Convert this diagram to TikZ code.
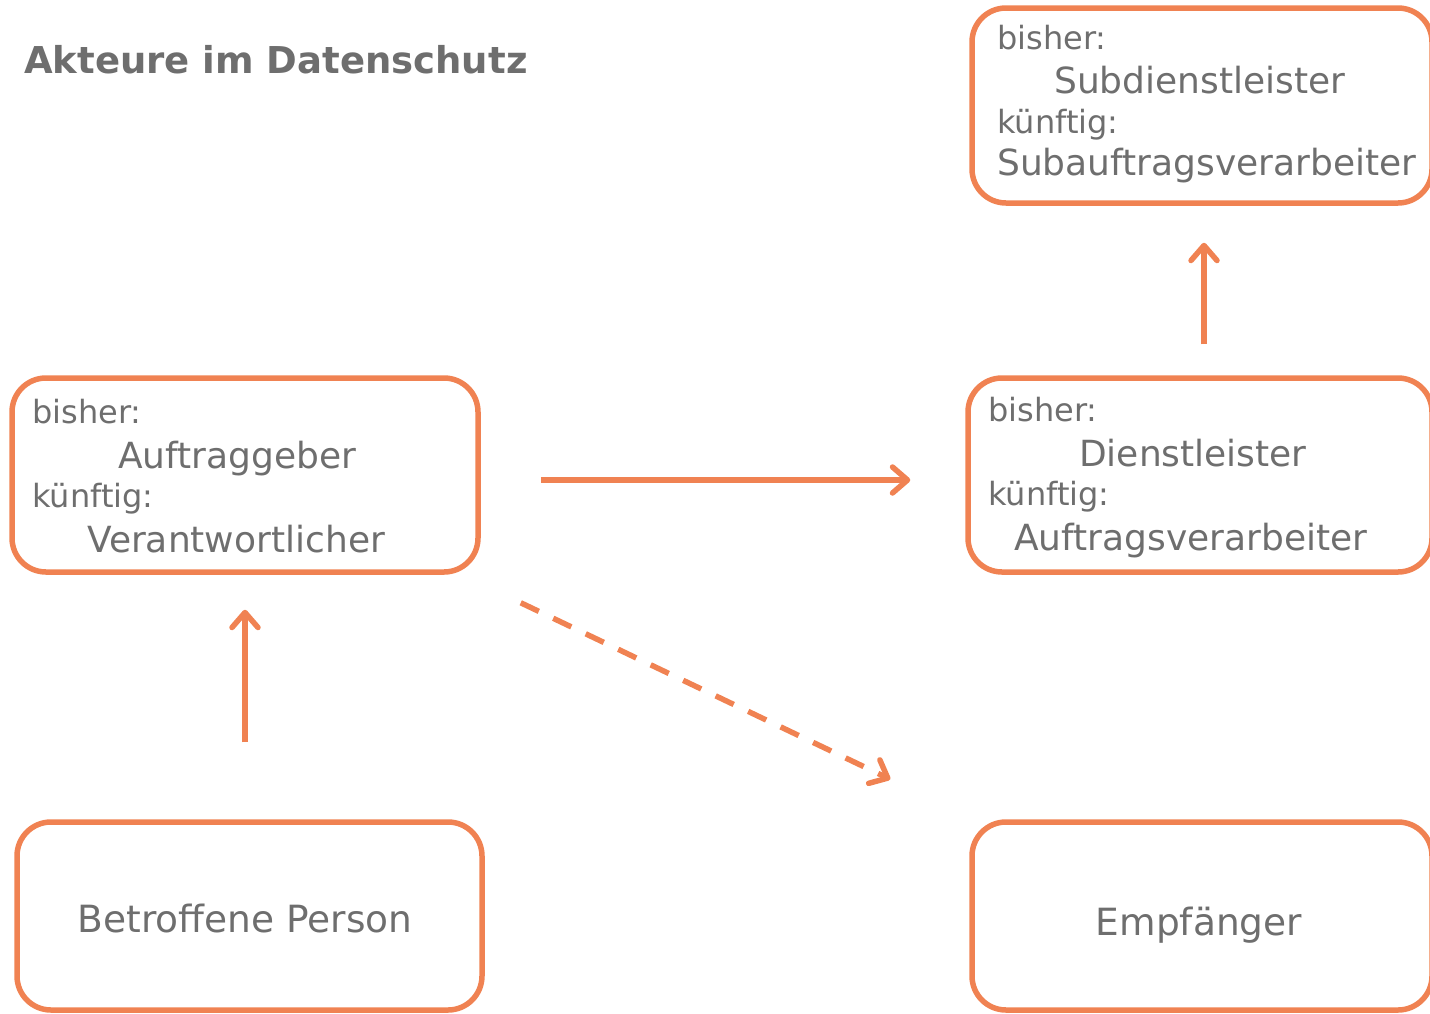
\documentclass[tikz,border=0pt]{standalone}
\usepackage{fontspec}
\setmainfont{DejaVu Sans}
\usetikzlibrary{arrows.meta}
\definecolor{orng}{RGB}{240,130,82}
\definecolor{txtgray}{RGB}{110,110,110}
\tikzset{
  box/.style={draw=orng, line width=5.5pt, rounded corners=34pt, rectangle, inner sep=0pt},
  small/.style={anchor=base west, inner sep=0pt, text=txtgray, font=\fontsize{32}{38}\selectfont},
  big/.style={anchor=base west, inner sep=0pt, text=txtgray, font=\fontsize{36}{43}\selectfont},
  single/.style={anchor=base, inner sep=0pt, text=txtgray, font=\fontsize{37.5}{45}\selectfont},
  conn/.style={draw=orng, line width=5.5pt, -{Straight Barb[length=15pt,width=26pt,line cap=round,line join=round]}}
}
\begin{document}
\begin{tikzpicture}[x=1pt,y=-1pt]
\useasboundingbox (0,0) rectangle (1430,1013);
% boxes
\node[box, minimum width=460pt, minimum height=195pt] (sub) at (1202,105.5) {};
\node[box, minimum width=466pt, minimum height=194pt] (ag) at (245,475) {};
\node[box, minimum width=464pt, minimum height=194pt] (dl) at (1200,475) {};
\node[box, minimum width=465pt, minimum height=188pt] (bp) at (249.5,916) {};
\node[box, minimum width=460pt, minimum height=188pt] (emp) at (1202,916) {};
% title
\node[anchor=base west, inner sep=0pt, text=txtgray, font=\bfseries\fontsize{37}{44}\selectfont] (title) at (24,73) {Akteure im Datenschutz};
% texts top right
\node[small] (t1) at (997,49) {bisher:};
\node[big] (t2) at (1054,93) {Subdienstleister};
\node[small] (t3) at (997,133) {künftig:};
\node[big] (t4) at (997,175) {Subauftragsverarbeiter};
% texts mid left
\node[small] (t5) at (32,423) {bisher:};
\node[big] (t6) at (118,468) {Auftraggeber};
\node[small] (t7) at (32,507) {künftig:};
\node[big] (t8) at (87,552) {Verantwortlicher};
% texts mid right
\node[small] (t9) at (988,421) {bisher:};
\node[big] (t10) at (1079,466) {Dienstleister};
\node[small] (t11) at (988,505) {künftig:};
\node[big] (t12) at (1014,550) {Auftragsverarbeiter};
% bottom texts
\node[single] (t13) at (245,932) {Betroffene Person};
\node[single] (t14) at (1199,935) {Empfänger};
% connectors
\draw[conn] ([xshift=60pt,yshift=-5pt]ag.east) -- ([xshift=-55pt,yshift=-5pt]dl.west);
\draw[conn] ([xshift=4pt,yshift=31pt]dl.north) -- ([xshift=2pt,yshift=-37pt]sub.south);
\draw[conn] ([xshift=-4.5pt,yshift=77pt]bp.north) -- ([yshift=-35pt]ag.south);
\draw[conn, dash pattern=on 20pt off 16pt] ([xshift=40pt,yshift=-28pt]ag.south east) -- ([xshift=-79pt,yshift=40pt]emp.north west);
\end{tikzpicture}
\end{document}
